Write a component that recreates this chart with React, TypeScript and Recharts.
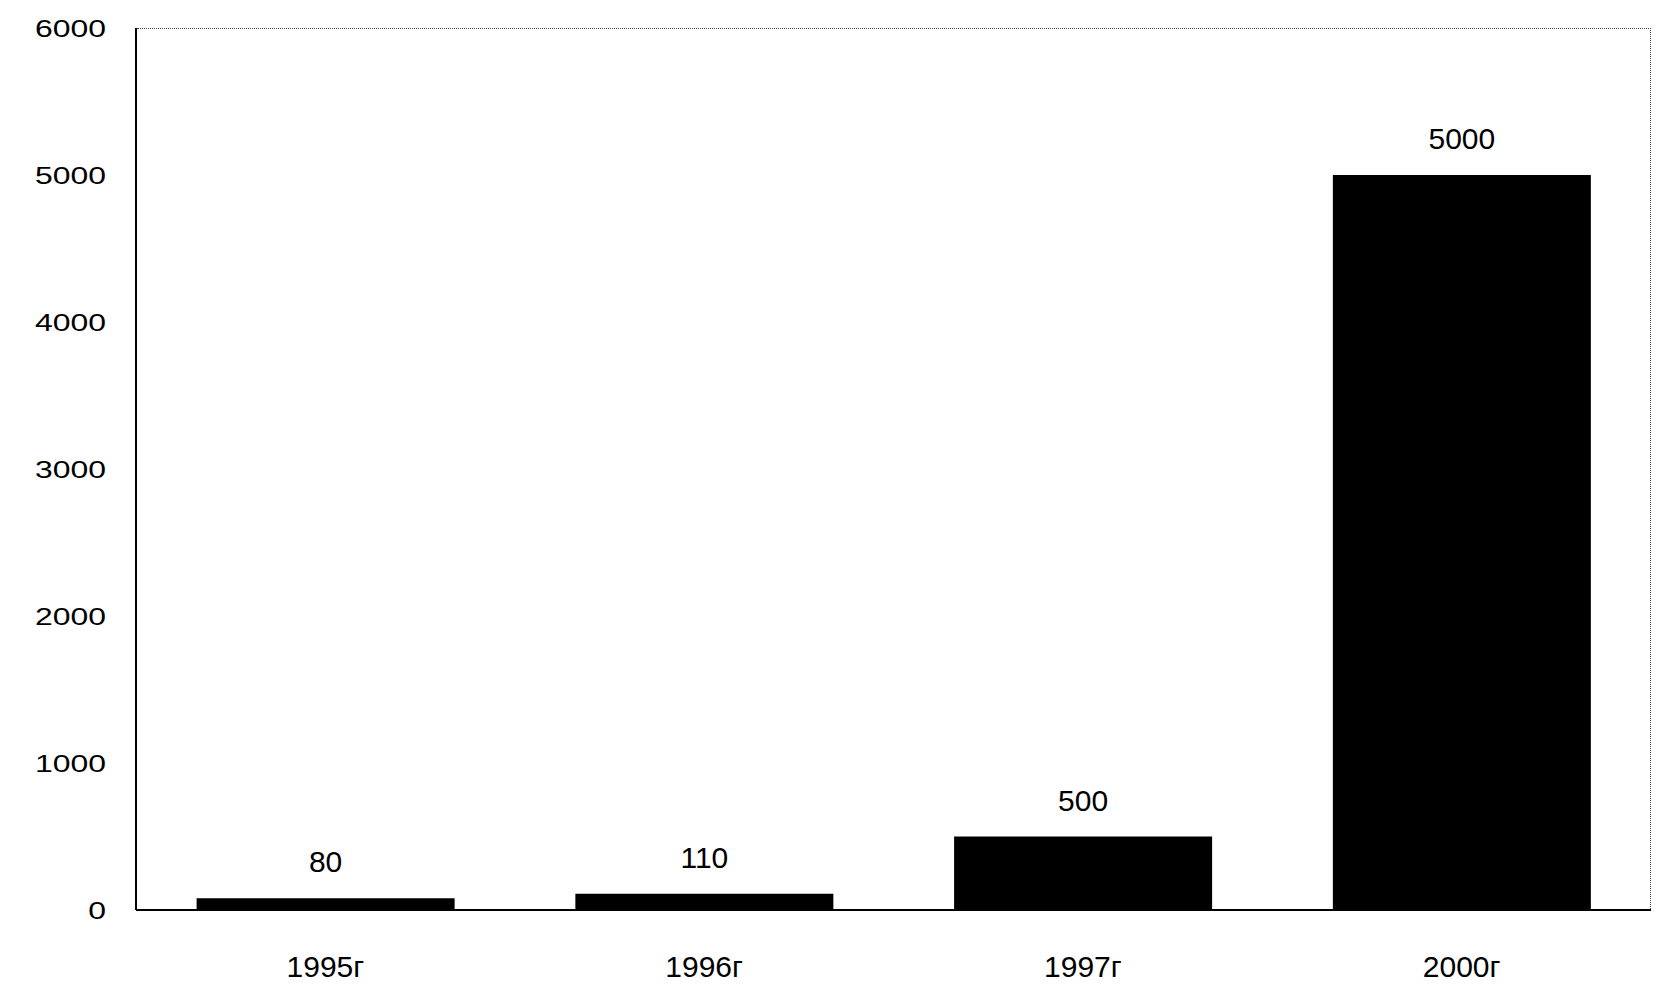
import React from 'react';
import { BarChart, Bar, XAxis, YAxis, LabelList } from 'recharts';

// values
const years = ['1995г', '1996г', '1997г', '2000г'];
const amounts = [80, 110, 500, 5000];
const yTicks = [0, 1000, 2000, 3000, 4000, 5000, 6000];

const data = years.map((year, i) => ({ year, amount: amounts[i] }));

const FONT = '"Liberation Sans", Arial, sans-serif';

// y tick labels in the scan are noticeably wider than tall, so stretch them a bit
const YTick = ({ x, y, payload }: any) => (
  <text
    transform={`translate(${x - 22},${y}) scale(1.33,1)`}
    textAnchor="end"
    dy="0.36em"
    fontSize={24}
    fontFamily={FONT}
    fill="#000"
  >
    {payload.value}
  </text>
);

const XTick = ({ x, y, payload }: any) => (
  <text x={x} y={y + 59} textAnchor="middle" fontSize={30} fontFamily={FONT} fill="#000">
    {payload.value}
  </text>
);

export default function App() {
  return (
    <div style={{ position: 'absolute', left: 0, top: 0, width: 1656, height: 993, background: '#fff' }}>
      <BarChart
        width={1656}
        height={993}
        data={data}
        margin={{ top: 28, right: 5, bottom: 0, left: 0 }}
        barCategoryGap="16%"
      >
        <XAxis
          dataKey="year"
          height={83}
          tick={<XTick />}
          tickLine={false}
          stroke="#000"
          strokeWidth={2}
        />
        <YAxis
          width={136}
          domain={[0, 6000]}
          ticks={yTicks}
          tick={<YTick />}
          tickLine={false}
          stroke="#000"
          strokeWidth={2}
          interval={0}
        />
        <Bar dataKey="amount" fill="#000" isAnimationActive={false}>
          <LabelList
            dataKey="amount"
            position="top"
            offset={26}
            fontSize={30}
            fontFamily={FONT}
            fill="#000"
          />
        </Bar>
      </BarChart>
      {/* dotted frame on the top and right of the plot area, as in the scan */}
      <div
        style={{
          position: 'absolute',
          left: 137,
          top: 28,
          width: 1514,
          height: 881,
          borderTop: '1px dotted #444',
          borderRight: '1px dotted #444',
          boxSizing: 'border-box',
          pointerEvents: 'none',
        }}
      />
    </div>
  );
}
